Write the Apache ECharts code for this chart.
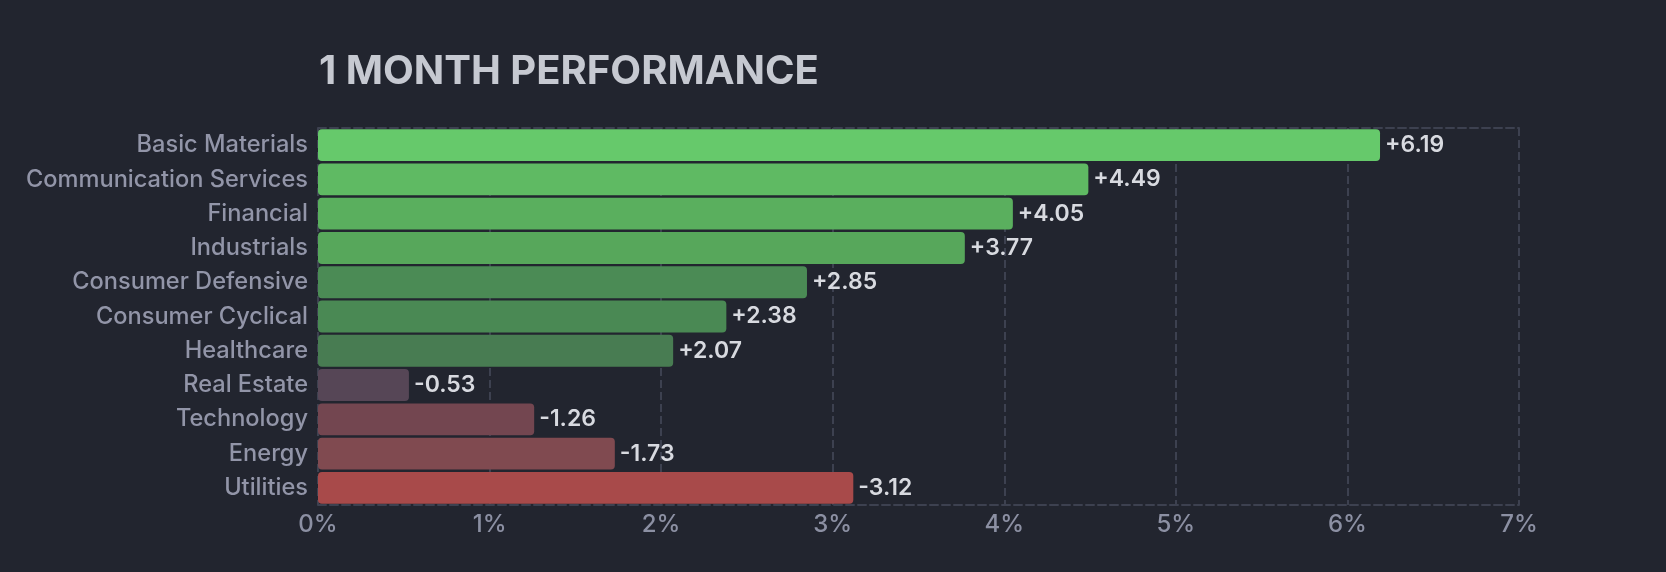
<!DOCTYPE html>
<html>
<head>
<meta charset="utf-8">
<script src="https://cdn.jsdelivr.net/npm/echarts@6/dist/echarts.min.js"></script>
<style>
  html, body { margin: 0; padding: 0; background: #22252f; }
  #chart { width: 1666px; height: 572px; }
</style>
</head>
<body>
<div id="chart"></div>
<script>
var sectors = ['Basic Materials', 'Communication Services', 'Financial', 'Industrials',
  'Consumer Defensive', 'Consumer Cyclical', 'Healthcare', 'Real Estate',
  'Technology', 'Energy', 'Utilities'];
var changes = [6.19, 4.49, 4.05, 3.77, 2.85, 2.38, 2.07, -0.53, -1.26, -1.73, -3.12];
var barColors = ['#66c96b', '#5fba63', '#5aaf5e', '#57a75b', '#4b8b55', '#4a8954', '#487c52',
  '#564656', '#734650', '#804a50', '#a84a4a'];
var xTicks = [0, 1, 2, 3, 4, 5, 6, 7];

var chart = echarts.init(document.getElementById('chart'));

var option = {
  backgroundColor: '#22252f',
  title: {
    text: '1 MONTH PERFORMANCE',
    left: 314,
    top: 47,
    textStyle: {
      color: '#c6c9d1',
      fontFamily: 'Inter',
      fontWeight: 'bold',
      fontSize: 40
    }
  },
  grid: { left: 318, right: 147, top: 128, bottom: 67 },
  xAxis: [{
    type: 'value',
    min: xTicks[0],
    max: xTicks[xTicks.length - 1],
    interval: 1,
    axisLine: { show: true, lineStyle: { color: '#3d4150', type: 'dashed', width: 2 } },
    axisTick: { show: false },
    splitLine: { show: true, lineStyle: { color: '#3d4150', type: 'dashed', width: 2 } },
    axisLabel: {
      color: '#8c90a3',
      fontFamily: 'Inter',
      fontWeight: 500,
      fontSize: 24,
      margin: 8,
      formatter: function (v) { return v + '%'; }
    }
  }, {
    type: 'value',
    position: 'top',
    min: xTicks[0],
    max: xTicks[xTicks.length - 1],
    interval: 1,
    axisLine: { show: true, lineStyle: { color: '#3d4150', type: 'dashed', width: 2 } },
    axisTick: { show: false },
    splitLine: { show: false },
    axisLabel: { show: false }
  }],
  yAxis: {
    type: 'category',
    data: sectors,
    inverse: true,
    axisLine: { show: false },
    axisTick: { show: false },
    axisLabel: {
      color: '#9295a8',
      fontFamily: 'Inter',
      fontWeight: 500,
      fontSize: 23.6,
      margin: 10
    }
  },
  series: [{
    type: 'bar',
    xAxisIndex: 0,
    barCategoryGap: '7%',
    data: changes.map(function (v, i) {
      return { value: Math.abs(v), itemStyle: { color: barColors[i] } };
    }),
    itemStyle: { borderRadius: 4 },
    label: {
      show: true,
      position: 'right',
      distance: 5,
      color: '#d8dae0',
      fontFamily: 'Inter',
      fontWeight: 600,
      fontSize: 23,
      formatter: function (p) {
        var v = changes[p.dataIndex];
        return (v > 0 ? '+' : '') + v.toFixed(2);
      }
    }
  }]
};

chart.setOption(option);
</script>
</body>
</html>
